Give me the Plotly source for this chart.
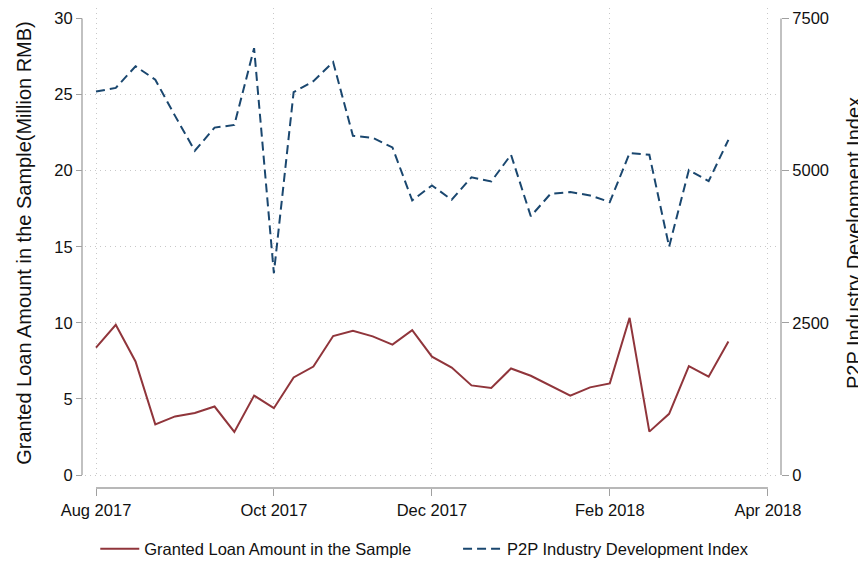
import plotly.graph_objects as go

# weekly observations, week 0 = first week of Aug 2017
weeks = list(range(33))
loan = [8.37, 9.87, 7.46, 3.33, 3.85, 4.07, 4.50, 2.83, 5.22, 4.39,
        6.41, 7.13, 9.13, 9.48, 9.11, 8.57, 9.52, 7.78, 7.06, 5.89,
        5.72, 7.00, 6.52, 5.87, 5.22, 5.76, 6.02, 10.33, 2.85, 4.02,
        7.15, 6.46, 8.78]
p2p = [6300, 6360, 6715, 6495, 5900, 5327, 5707, 5751, 7012, 3315,
       6290, 6469, 6784, 5572, 5540, 5382, 4512, 4757, 4522, 4892,
       4822, 5262, 4251, 4620, 4648, 4593, 4484, 5289, 5262, 3751,
       5011, 4827, 5507]

tick_weeks = [0, 9, 17, 26, 34]
tick_labels = ["Aug 2017", "Oct 2017", "Dec 2017", "Feb 2018", "Apr 2018"]
left_ticks = [0, 5, 10, 15, 20, 25, 30]
left_grid = [0, 5, 10, 15, 20, 25]
right_ticks = [0, 2500, 5000, 7500]

red = "#90353b"
navy = "#1a476f"
axis_col = "#a0a0a0"
grid_col = "#c8c8c8"
font = dict(family="Liberation Sans, Arial, sans-serif", size=16.5, color="#111")
title_font = dict(family=font["family"], size=20, color="#111")

y_lo, y_hi = -0.197, 30.69

fig = go.Figure()
fig.add_trace(go.Scatter(x=weeks, y=loan, mode="lines", name="Granted Loan Amount in the Sample",
                         line=dict(color=red, width=2), legend="legend"))
fig.add_trace(go.Scatter(x=weeks, y=p2p, mode="lines", name="P2P Industry Development Index",
                         line=dict(color=navy, width=2, dash="9px,5px"), yaxis="y2",
                         legend="legend2"))

# stata-style axis lines that stop at the outer ticks
fig.add_shape(type="line", xref="paper", yref="y", x0=0, x1=0, y0=0, y1=30,
              line=dict(color=axis_col, width=1.3))
fig.add_shape(type="line", xref="paper", yref="y", x0=1, x1=1, y0=0, y1=30,
              line=dict(color=axis_col, width=1.3))
fig.add_shape(type="line", xref="x", yref="paper", x0=0, x1=34, y0=0, y1=0,
              line=dict(color=axis_col, width=1.3))

# page body adds 8px on top/left, so the figure is 8px smaller
fig.update_layout(
    width=858, height=556,
    margin=dict(l=74, r=85, t=0, b=76, pad=0, autoexpand=False),
    paper_bgcolor="white", plot_bgcolor="white",
    font=font,
    showlegend=True,
    legend=dict(orientation="h", x=0.019, xanchor="left", y=-0.127, yanchor="middle",
                font=font, itemwidth=39),
    legend2=dict(orientation="h", x=0.538, xanchor="left", y=-0.127, yanchor="middle",
                 font=font, itemwidth=39),
    xaxis=dict(domain=[3 / 699, 696 / 699], range=[-0.557, 34.51],
               anchor="free", position=0, automargin=False,
               tickvals=tick_weeks, ticktext=tick_labels,
               ticks="outside", ticklen=7, tickcolor=axis_col, tickwidth=1.3,
               ticklabeloverflow="allow",
               showline=False, zeroline=False,
               showgrid=True, gridcolor=grid_col, griddash="1px,4px", gridwidth=1.2),
    yaxis=dict(domain=[10 / 480, 1], range=[y_lo, y_hi],
               anchor="free", position=0, automargin=False,
               tickvals=left_ticks, ticks="outside", ticklen=6, tickcolor=axis_col, tickwidth=1.3,
               ticklabeloverflow="allow",
               showline=False, zeroline=False, showgrid=False,
               minor=dict(tickvals=left_grid, showgrid=True, gridcolor=grid_col,
                          griddash="1px,4px", gridwidth=1.2, ticks=""),
               title=dict(text="Granted Loan Amount in the Sample(Million RMB)",
                          font=title_font, standoff=16)),
    yaxis2=dict(overlaying="y", side="right", anchor="free", position=1, automargin=False,
                range=[y_lo * 250, y_hi * 250],
                tickvals=right_ticks, ticks="outside", ticklen=7, tickcolor=axis_col, tickwidth=1.3,
                ticklabeloverflow="allow",
                showline=False, zeroline=False, showgrid=False,
                title=dict(text="P2P Industry Development Index",
                           font=title_font, standoff=18)),
)

fig.write_html("out.html")
